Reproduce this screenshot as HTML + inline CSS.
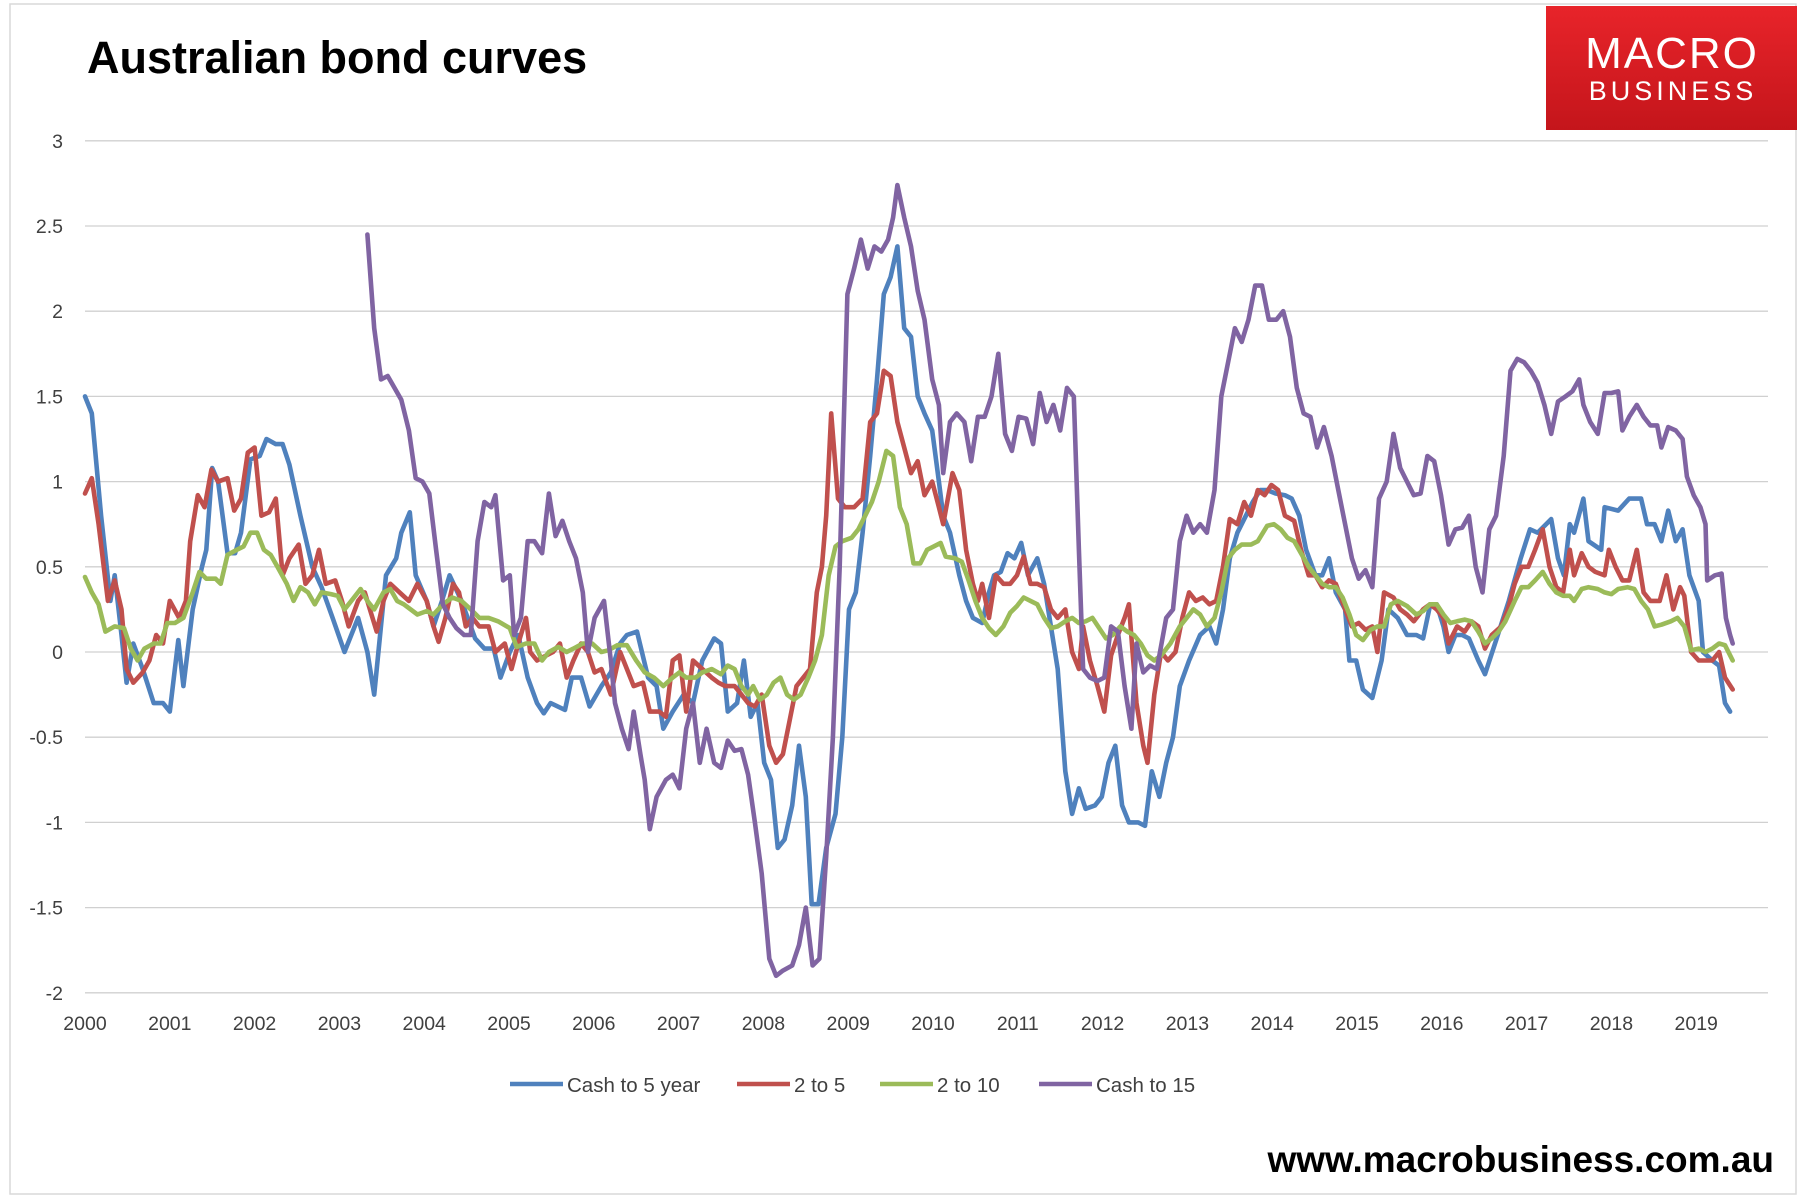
<!DOCTYPE html>
<html><head><meta charset="utf-8"><title>Australian bond curves</title>
<style>
html,body{margin:0;padding:0;background:#fff;}
body{width:1800px;height:1201px;overflow:hidden;position:relative;font-family:"Liberation Sans",sans-serif;}
svg{position:absolute;left:0;top:0;}
</style></head>
<body>
<svg id="chart" width="1800" height="1201" viewBox="0 0 1800 1201" xmlns="http://www.w3.org/2000/svg">
  <rect x="10" y="4" width="1786" height="1190" fill="none" stroke="#d9d9d9" stroke-width="1.5"/>
  <text x="87" y="73" font-family="Liberation Sans, sans-serif" font-weight="bold" font-size="45" fill="#000">Australian bond curves</text>
  <g>
    <defs><linearGradient id="lg" x1="0" y1="0" x2="0" y2="1"><stop offset="0" stop-color="#e8242a"/><stop offset="1" stop-color="#c4151b"/></linearGradient></defs>
    <rect x="1546" y="6" width="251" height="124" fill="url(#lg)"/>
    <text x="1672" y="68" text-anchor="middle" font-family="Liberation Sans, sans-serif" font-size="44" fill="#fff" letter-spacing="2">MACRO</text>
    <text x="1673" y="100" text-anchor="middle" font-family="Liberation Sans, sans-serif" font-size="27" fill="#fff" letter-spacing="4">BUSINESS</text>
  </g>
  <g id="grid"></g>
  <g id="yticks"></g>
  <g id="xticks"></g>
  <g id="series"></g>
  <g id="legend"></g>
  <text x="1774" y="1172" text-anchor="end" font-family="Liberation Sans, sans-serif" font-weight="bold" font-size="37" fill="#000">www.macrobusiness.com.au</text>
</svg>
<script>
// Tick values
const yTicks = [3, 2.5, 2, 1.5, 1, 0.5, 0, -0.5, -1, -1.5, -2];
const yTickLabels = ["3", "2.5", "2", "1.5", "1", "0.5", "0", "-0.5", "-1", "-1.5", "-2"];
const xTickYears = [2000,2001,2002,2003,2004,2005,2006,2007,2008,2009,2010,2011,2012,2013,2014,2015,2016,2017,2018,2019];
const seriesNames = ["Cash to 5 year", "2 to 5", "2 to 10", "Cash to 15"];
// Data: [years since Jan 2000, spread]
const cashTo5 = [[0,1.5],[.08,1.4],[.19,.8],[.30,.3],[.35,.45],[.43,.1],[.49,-.18],[.57,.05],[.68,-.1],[.81,-.3],[.92,-.3],[1.00,-.35],[1.10,.07],[1.16,-.2],[1.27,.25],[1.38,.5],[1.43,.6],[1.50,1.08],[1.57,1.0],[1.68,.58],[1.77,.58],[1.84,.7],[1.95,1.13],[2.06,1.15],[2.14,1.25],[2.25,1.22],[2.33,1.22],[2.41,1.1],[2.54,.8],[2.68,.5],[2.79,.38],[2.92,.2],[3.06,0],[3.22,.2],[3.33,0],[3.41,-.25],[3.55,.45],[3.67,.55],[3.73,.7],[3.83,.82],[3.90,.45],[4.03,.3],[4.11,.15],[4.21,.3],[4.30,.45],[4.44,.3],[4.60,.08],[4.71,.02],[4.82,.02],[4.90,-.15],[5.01,0],[5.11,.1],[5.22,-.15],[5.33,-.3],[5.41,-.36],[5.49,-.3],[5.66,-.34],[5.74,-.15],[5.85,-.15],[5.95,-.32],[6.09,-.2],[6.20,-.12],[6.31,.05],[6.39,.1],[6.51,.12],[6.64,-.15],[6.74,-.2],[6.82,-.45],[6.93,-.35],[7.06,-.25],[7.17,-.3],[7.28,-.05],[7.42,.08],[7.50,.05],[7.58,-.35],[7.69,-.3],[7.77,-.05],[7.85,-.38],[7.93,-.3],[8.01,-.65],[8.09,-.75],[8.17,-1.15],[8.25,-1.1],[8.34,-.9],[8.42,-.55],[8.50,-.85],[8.57,-1.48],[8.65,-1.48],[8.74,-1.15],[8.85,-.95],[8.93,-.5],[9.01,.25],[9.09,.35],[9.17,.7],[9.26,1.15],[9.34,1.6],[9.42,2.1],[9.50,2.2],[9.58,2.38],[9.66,1.9],[9.74,1.85],[9.82,1.5],[9.90,1.4],[9.99,1.3],[10.07,1.0],[10.12,.8],[10.20,.7],[10.31,.45],[10.39,.3],[10.47,.2],[10.58,.17],[10.66,.35],[10.72,.45],[10.80,.47],[10.88,.58],[10.96,.55],[11.04,.64],[11.12,.45],[11.23,.55],[11.31,.4],[11.39,.15],[11.47,-.1],[11.56,-.7],[11.64,-.95],[11.72,-.8],[11.80,-.92],[11.91,-.9],[11.99,-.85],[12.07,-.65],[12.15,-.55],[12.23,-.9],[12.31,-1.0],[12.42,-1.0],[12.50,-1.02],[12.58,-.7],[12.67,-.85],[12.75,-.65],[12.83,-.5],[12.91,-.2],[13.02,-.05],[13.15,.1],[13.26,.15],[13.34,.05],[13.42,.25],[13.50,.55],[13.59,.7],[13.69,.8],[13.77,.88],[13.86,.95],[13.94,.95],[14.04,.93],[14.15,.92],[14.23,.9],[14.32,.8],[14.40,.6],[14.51,.45],[14.59,.45],[14.67,.55],[14.75,.35],[14.86,.25],[14.91,-.05],[14.99,-.05],[15.07,-.22],[15.18,-.27],[15.29,-.05],[15.37,.25],[15.48,.2],[15.59,.1],[15.70,.1],[15.78,.08],[15.86,.27],[15.94,.28],[16.02,.15],[16.08,0],[16.16,.1],[16.24,.1],[16.32,.08],[16.43,-.05],[16.51,-.13],[16.66,.1],[16.79,.3],[16.93,.55],[17.04,.72],[17.13,.7],[17.29,.78],[17.37,.55],[17.44,.45],[17.51,.75],[17.56,.7],[17.67,.9],[17.73,.65],[17.88,.6],[17.92,.85],[18.08,.83],[18.21,.9],[18.35,.9],[18.42,.75],[18.51,.75],[18.59,.65],[18.67,.83],[18.76,.65],[18.84,.72],[18.92,.45],[19.03,.3],[19.08,0],[19.19,-.05],[19.27,-.08],[19.34,-.3],[19.40,-.35]];
const twoTo5 = [[0,.93],[.08,1.02],[.16,.75],[.27,.3],[.35,.42],[.43,.25],[.49,-.1],[.57,-.18],[.68,-.12],[.76,-.05],[.84,.1],[.92,.05],[1.00,.3],[1.11,.2],[1.19,.3],[1.24,.65],[1.33,.92],[1.41,.85],[1.49,1.07],[1.57,1.0],[1.68,1.02],[1.76,.83],[1.84,.9],[1.92,1.17],[2.00,1.2],[2.08,.8],[2.17,.82],[2.25,.9],[2.33,.45],[2.41,.55],[2.52,.63],[2.60,.4],[2.68,.45],[2.76,.6],[2.84,.4],[2.95,.42],[3.03,.3],[3.11,.15],[3.22,.3],[3.30,.35],[3.36,.25],[3.44,.12],[3.52,.3],[3.60,.4],[3.71,.35],[3.82,.3],[3.92,.4],[4.03,.3],[4.11,.15],[4.17,.06],[4.25,.2],[4.34,.4],[4.41,.35],[4.49,.15],[4.57,.2],[4.65,.15],[4.76,.15],[4.84,0],[4.95,.05],[5.03,-.1],[5.11,.05],[5.20,.2],[5.25,0],[5.33,-.05],[5.44,-.02],[5.52,0],[5.60,.05],[5.68,-.15],[5.76,-.05],[5.85,.05],[5.93,0],[6.01,-.12],[6.09,-.1],[6.20,-.25],[6.31,0],[6.39,-.1],[6.47,-.2],[6.58,-.18],[6.66,-.35],[6.77,-.35],[6.85,-.38],[6.93,-.05],[7.01,-.02],[7.09,-.35],[7.17,-.05],[7.28,-.1],[7.39,-.15],[7.47,-.18],[7.55,-.2],[7.66,-.2],[7.74,-.25],[7.82,-.3],[7.90,-.32],[7.98,-.25],[8.07,-.55],[8.15,-.65],[8.23,-.6],[8.31,-.4],[8.39,-.2],[8.47,-.15],[8.55,-.1],[8.63,.35],[8.69,.5],[8.74,.8],[8.80,1.4],[8.88,.9],[8.96,.85],[9.07,.85],[9.17,.9],[9.26,1.35],[9.34,1.4],[9.42,1.65],[9.50,1.62],[9.58,1.35],[9.66,1.2],[9.74,1.05],[9.82,1.12],[9.90,.92],[9.99,1.0],[10.07,.85],[10.12,.75],[10.23,1.05],[10.31,.95],[10.39,.6],[10.47,.4],[10.53,.3],[10.58,.4],[10.66,.2],[10.74,.45],[10.83,.4],[10.91,.4],[10.99,.45],[11.07,.56],[11.15,.4],[11.23,.4],[11.31,.38],[11.39,.25],[11.47,.2],[11.56,.25],[11.64,0],[11.72,-.1],[11.77,.15],[11.85,-.05],[11.94,-.2],[12.02,-.35],[12.10,-.02],[12.18,.1],[12.26,.2],[12.31,.28],[12.40,-.3],[12.48,-.55],[12.53,-.65],[12.61,-.25],[12.69,0],[12.77,-.05],[12.86,0],[12.94,.2],[13.02,.35],[13.10,.3],[13.18,.32],[13.26,.28],[13.34,.3],[13.42,.5],[13.50,.78],[13.59,.75],[13.67,.88],[13.75,.8],[13.83,.95],[13.91,.92],[13.99,.98],[14.07,.95],[14.15,.8],[14.26,.77],[14.34,.6],[14.43,.45],[14.51,.45],[14.59,.38],[14.67,.42],[14.75,.4],[14.86,.25],[14.94,.15],[15.02,.17],[15.10,.13],[15.18,.15],[15.24,0],[15.32,.35],[15.43,.32],[15.51,.25],[15.59,.22],[15.67,.18],[15.78,.25],[15.86,.28],[15.94,.25],[16.02,.2],[16.08,.05],[16.18,.15],[16.27,.12],[16.35,.18],[16.43,.15],[16.51,.02],[16.59,.1],[16.70,.15],[16.78,.25],[16.86,.4],[16.94,.5],[17.02,.5],[17.10,.6],[17.19,.72],[17.27,.5],[17.35,.38],[17.43,.35],[17.51,.6],[17.56,.45],[17.65,.58],[17.73,.5],[17.81,.47],[17.92,.45],[17.97,.6],[18.05,.5],[18.13,.42],[18.21,.42],[18.30,.6],[18.38,.35],[18.46,.3],[18.57,.3],[18.65,.45],[18.73,.25],[18.81,.38],[18.86,.33],[18.94,0],[19.03,-.05],[19.11,-.05],[19.19,-.05],[19.27,0],[19.34,-.15],[19.43,-.22]];
const twoTo10 = [[0,.44],[.08,.35],[.16,.28],[.24,.12],[.35,.15],[.46,.14],[.54,.02],[.62,-.05],[.70,.02],[.81,.05],[.89,.05],[.97,.17],[1.06,.17],[1.16,.2],[1.27,.35],[1.35,.47],[1.43,.43],[1.54,.43],[1.60,.4],[1.68,.57],[1.79,.6],[1.87,.62],[1.95,.7],[2.03,.7],[2.11,.6],[2.19,.57],[2.27,.5],[2.38,.4],[2.46,.3],[2.54,.38],[2.63,.35],[2.71,.28],[2.79,.35],[2.90,.34],[2.98,.33],[3.06,.25],[3.14,.3],[3.25,.37],[3.33,.3],[3.41,.25],[3.52,.35],[3.60,.37],[3.68,.3],[3.76,.28],[3.84,.25],[3.92,.22],[4.03,.24],[4.11,.22],[4.22,.28],[4.33,.32],[4.44,.3],[4.55,.25],[4.65,.2],[4.76,.2],[4.87,.18],[5.01,.14],[5.09,.03],[5.20,.05],[5.30,.05],[5.39,-.05],[5.47,0],[5.58,.03],[5.68,0],[5.76,.02],[5.87,.05],[5.98,.05],[6.09,0],[6.17,.01],[6.28,.04],[6.39,.04],[6.50,-.05],[6.60,-.12],[6.71,-.15],[6.82,-.2],[6.93,-.15],[7.01,-.12],[7.09,-.15],[7.20,-.15],[7.28,-.12],[7.39,-.1],[7.50,-.13],[7.58,-.08],[7.66,-.1],[7.74,-.2],[7.82,-.25],[7.88,-.2],[7.96,-.28],[8.04,-.25],[8.12,-.18],[8.20,-.15],[8.28,-.25],[8.36,-.28],[8.44,-.25],[8.53,-.15],[8.61,-.05],[8.69,.1],[8.77,.45],[8.85,.62],[8.93,.65],[9.04,.67],[9.12,.72],[9.20,.8],[9.28,.88],[9.36,1.0],[9.45,1.18],[9.53,1.15],[9.61,.85],[9.69,.75],[9.77,.52],[9.85,.52],[9.93,.6],[10.01,.62],[10.09,.64],[10.15,.56],[10.26,.55],[10.34,.53],[10.42,.42],[10.50,.3],[10.58,.2],[10.66,.14],[10.74,.1],[10.83,.15],[10.91,.23],[10.99,.27],[11.07,.32],[11.15,.3],[11.23,.28],[11.31,.2],[11.39,.14],[11.47,.15],[11.56,.18],[11.64,.2],[11.72,.17],[11.80,.18],[11.88,.2],[11.96,.14],[12.04,.08],[12.12,.1],[12.21,.15],[12.29,.12],[12.37,.1],[12.45,.05],[12.53,-.02],[12.61,-.05],[12.69,-.02],[12.80,.05],[12.91,.15],[12.99,.2],[13.07,.25],[13.15,.22],[13.23,.15],[13.32,.2],[13.40,.35],[13.48,.55],[13.56,.6],[13.64,.63],[13.75,.63],[13.83,.65],[13.94,.74],[14.02,.75],[14.10,.72],[14.18,.67],[14.26,.65],[14.34,.58],[14.43,.5],[14.51,.45],[14.59,.4],[14.67,.38],[14.75,.38],[14.83,.32],[14.91,.22],[14.99,.1],[15.07,.07],[15.16,.13],[15.24,.15],[15.32,.15],[15.40,.28],[15.48,.3],[15.59,.27],[15.70,.22],[15.78,.24],[15.86,.28],[15.94,.28],[16.02,.22],[16.10,.17],[16.18,.18],[16.27,.19],[16.35,.18],[16.43,.12],[16.51,.05],[16.59,.08],[16.67,.12],[16.75,.18],[16.86,.3],[16.94,.38],[17.02,.38],[17.10,.42],[17.19,.47],[17.27,.4],[17.35,.35],[17.43,.33],[17.51,.33],[17.56,.3],[17.65,.37],[17.73,.38],[17.84,.37],[17.92,.35],[18.00,.34],[18.08,.37],[18.19,.38],[18.27,.37],[18.35,.3],[18.43,.25],[18.51,.15],[18.59,.16],[18.70,.18],[18.78,.2],[18.86,.15],[18.94,.01],[19.03,.02],[19.11,0],[19.19,.02],[19.27,.05],[19.34,.04],[19.43,-.05]];
const cashTo15 = [[3.33,2.45],[3.41,1.9],[3.49,1.6],[3.57,1.62],[3.65,1.55],[3.73,1.48],[3.82,1.3],[3.90,1.02],[3.98,1.0],[4.06,.93],[4.14,.6],[4.22,.28],[4.30,.2],[4.38,.14],[4.47,.1],[4.55,.1],[4.63,.65],[4.71,.88],[4.79,.85],[4.84,.92],[4.93,.42],[5.01,.45],[5.06,.1],[5.14,.2],[5.22,.65],[5.30,.65],[5.39,.58],[5.47,.93],[5.55,.68],[5.63,.77],[5.71,.65],[5.79,.55],[5.87,.35],[5.93,0],[6.01,.2],[6.12,.3],[6.20,-.05],[6.25,-.3],[6.33,-.45],[6.41,-.57],[6.47,-.35],[6.55,-.6],[6.60,-.75],[6.66,-1.04],[6.74,-.85],[6.85,-.75],[6.93,-.72],[7.01,-.8],[7.09,-.45],[7.17,-.3],[7.25,-.65],[7.33,-.45],[7.42,-.65],[7.50,-.68],[7.58,-.52],[7.66,-.58],[7.74,-.57],[7.82,-.72],[7.90,-1.0],[7.98,-1.3],[8.07,-1.8],[8.15,-1.9],[8.23,-1.87],[8.34,-1.84],[8.42,-1.72],[8.50,-1.5],[8.58,-1.84],[8.66,-1.8],[8.74,-1.2],[8.82,-.5],[8.90,.5],[8.99,2.1],[9.07,2.25],[9.15,2.42],[9.23,2.25],[9.31,2.38],[9.39,2.35],[9.47,2.42],[9.53,2.55],[9.58,2.74],[9.66,2.55],[9.74,2.38],[9.82,2.12],[9.90,1.95],[9.99,1.6],[10.07,1.45],[10.12,1.05],[10.20,1.35],[10.28,1.4],[10.37,1.35],[10.45,1.12],[10.53,1.38],[10.61,1.38],[10.69,1.5],[10.77,1.75],[10.85,1.28],[10.93,1.18],[11.01,1.38],[11.10,1.37],[11.18,1.22],[11.26,1.52],[11.34,1.35],[11.42,1.45],[11.50,1.3],[11.58,1.55],[11.66,1.5],[11.72,.6],[11.77,-.1],[11.85,-.15],[11.94,-.17],[12.02,-.15],[12.10,.15],[12.18,.12],[12.26,-.2],[12.34,-.45],[12.40,.05],[12.48,-.12],[12.56,-.08],[12.64,-.1],[12.75,.2],[12.83,.25],[12.91,.65],[12.99,.8],[13.07,.7],[13.15,.75],[13.23,.7],[13.32,.95],[13.40,1.5],[13.48,1.7],[13.56,1.9],[13.64,1.82],[13.72,1.95],[13.80,2.15],[13.88,2.15],[13.96,1.95],[14.05,1.95],[14.13,2.0],[14.21,1.85],[14.29,1.55],[14.37,1.4],[14.45,1.38],[14.53,1.2],[14.61,1.32],[14.70,1.15],[14.78,.95],[14.86,.75],[14.94,.55],[15.02,.43],[15.10,.48],[15.18,.38],[15.26,.9],[15.35,1.0],[15.43,1.28],[15.51,1.08],[15.59,1.0],[15.67,.92],[15.75,.93],[15.83,1.15],[15.91,1.12],[15.99,.92],[16.08,.63],[16.16,.72],[16.24,.73],[16.32,.8],[16.40,.5],[16.48,.35],[16.56,.72],[16.64,.8],[16.73,1.15],[16.81,1.65],[16.89,1.72],[16.97,1.7],[17.05,1.65],[17.13,1.58],[17.21,1.45],[17.29,1.28],[17.37,1.47],[17.46,1.5],[17.54,1.53],[17.62,1.6],[17.67,1.45],[17.75,1.35],[17.84,1.28],[17.92,1.52],[18.00,1.52],[18.08,1.53],[18.13,1.3],[18.21,1.38],[18.30,1.45],[18.38,1.38],[18.46,1.33],[18.54,1.33],[18.59,1.2],[18.67,1.32],[18.76,1.3],[18.84,1.25],[18.89,1.03],[18.97,.92],[19.05,.85],[19.11,.75],[19.13,.42],[19.22,.45],[19.30,.46],[19.35,.2],[19.40,.1],[19.43,.05]];
const seriesColors = ["#4F81BD", "#C0504D", "#9BBB59", "#8064A2"];

const NS = "http://www.w3.org/2000/svg";
const X0 = 85, XPER = 84.8, YZERO = 652, YPER = 170.4;
function xs(t){ return X0 + t * XPER; }
function ys(v){ return YZERO - v * YPER; }

const grid = document.getElementById("grid");
const yg = document.getElementById("yticks");
yTicks.forEach((v, i) => {
  const l = document.createElementNS(NS, "line");
  l.setAttribute("x1", X0); l.setAttribute("x2", 1768);
  l.setAttribute("y1", ys(v)); l.setAttribute("y2", ys(v));
  l.setAttribute("stroke", "#d0d0d0"); l.setAttribute("stroke-width", "1.3");
  
  
  grid.appendChild(l);
  const t = document.createElementNS(NS, "text");
  t.setAttribute("x", 63); t.setAttribute("y", ys(v) + 7);
  t.setAttribute("text-anchor", "end"); t.setAttribute("font-size", "19.5");
  t.setAttribute("fill", "#404040");
  t.textContent = yTickLabels[i];
  
  
  yg.appendChild(t);
});
const xg = document.getElementById("xticks");
xTickYears.forEach((yr) => {
  const t = document.createElementNS(NS, "text");
  t.setAttribute("x", xs(yr - 2000)); t.setAttribute("y", 1030);
  t.setAttribute("text-anchor", "middle"); t.setAttribute("font-size", "19.5");
  t.setAttribute("fill", "#404040");
  t.textContent = String(yr);
  
  
  xg.appendChild(t);
});

const sg = document.getElementById("series");
const allSeries = [cashTo5, twoTo5, twoTo10, cashTo15];
const seriesKeys = ["cash-to-5-year", "2-to-5", "2-to-10", "cash-to-15"];
allSeries.forEach((data, i) => {
  const p = document.createElementNS(NS, "polyline");
  p.setAttribute("points", data.map(d => xs(d[0]).toFixed(1) + "," + ys(d[1]).toFixed(1)).join(" "));
  p.setAttribute("fill", "none"); p.setAttribute("stroke", seriesColors[i]);
  p.setAttribute("stroke-width", "4.6"); p.setAttribute("stroke-linejoin", "round"); p.setAttribute("stroke-linecap", "round");
  
  
  sg.appendChild(p);
});

const lg = document.getElementById("legend");
const legX = [510, 737, 880, 1039];
seriesNames.forEach((name, i) => {
  const g = document.createElementNS(NS, "g");
  
  
  const l = document.createElementNS(NS, "line");
  l.setAttribute("x1", legX[i]); l.setAttribute("x2", legX[i] + 53);
  l.setAttribute("y1", 1084); l.setAttribute("y2", 1084);
  l.setAttribute("stroke", seriesColors[i]); l.setAttribute("stroke-width", "4.6");
  
  
  g.appendChild(l);
  const t = document.createElementNS(NS, "text");
  t.setAttribute("x", legX[i] + 57); t.setAttribute("y", 1092);
  t.setAttribute("font-size", "20.5"); t.setAttribute("fill", "#404040");
  t.textContent = name;
  
  
  g.appendChild(t);
  lg.appendChild(g);
});
</script>
</body></html>
